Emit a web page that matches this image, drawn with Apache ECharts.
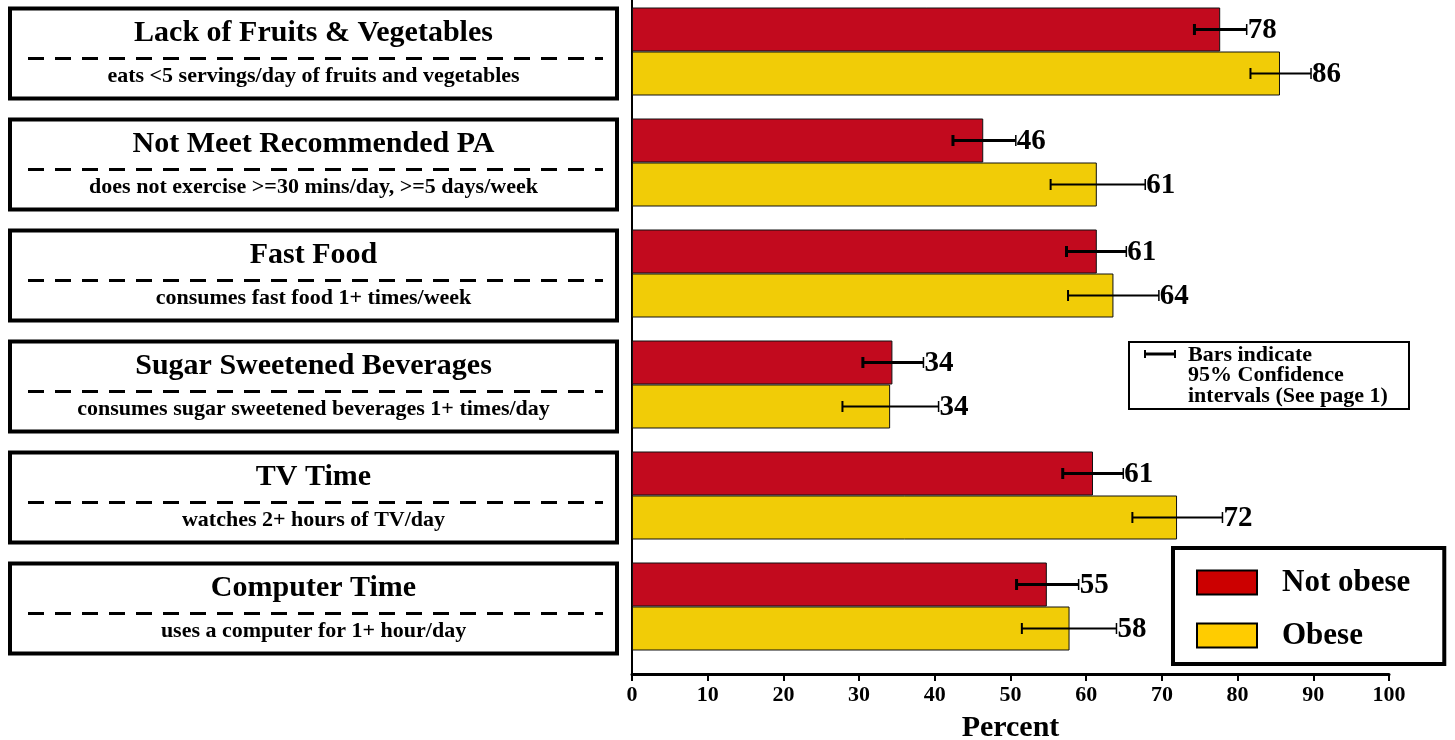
<!DOCTYPE html>
<html>
<head>
<meta charset="utf-8">
<script src="https://cdn.jsdelivr.net/npm/echarts@6/dist/echarts.min.js"></script>
<style>
  html, body { margin: 0; padding: 0; background: #fff; }
  #chart { width: 1455px; height: 740px; }
</style>
</head>
<body>
<div id="chart"></div>
<script>
// categories, top to bottom
const categories = ['Lack of Fruits & Vegetables', 'Not Meet Recommended PA', 'Fast Food',
  'Sugar Sweetened Beverages', 'TV Time', 'Computer Time'];
const descriptions = ['eats <5 servings/day of fruits and vegetables',
  'does not exercise >=30 mins/day, >=5 days/week',
  'consumes fast food 1+ times/week',
  'consumes sugar sweetened beverages 1+ times/day',
  'watches 2+ hours of TV/day',
  'uses a computer for 1+ hour/day'];

// percent, with 95% confidence intervals
const notObese = [77.7, 46.4, 61.4, 34.4, 60.9, 54.8];
const notObeseLow = [74.3, 42.4, 57.4, 30.5, 56.9, 50.8];
const notObeseHigh = [81.2, 50.7, 65.3, 38.5, 64.9, 59.0];
const obese = [85.6, 61.4, 63.6, 34.1, 72.0, 57.8];
const obeseLow = [81.7, 55.3, 57.6, 27.8, 66.1, 51.5];
const obeseHigh = [89.7, 67.8, 69.6, 40.5, 78.0, 64.0];
const xTicks = [0, 10, 20, 30, 40, 50, 60, 70, 80, 90, 100];

const FONT = '"Liberation Serif", "Times New Roman", serif';
const RED = '#c20a1e';
const YELLOW = '#f1cc07';
const BAR_W = 44;

const chart = echarts.init(document.getElementById('chart'));

function errorBars (name, low, high, side, thick) {
	return {
		name,
		type: 'custom',
		xAxisIndex: 0,
		yAxisIndex: 0,
		z: 5,
		silent: true,
		data: low.map((v, i) => [i, v, high[i]]),
		encode: { y: 0, x: [1, 2] },
		renderItem (params, api) {
			const cat = api.value(0);
			const lo = api.coord([api.value(1), cat]);
			const hi = api.coord([api.value(2), cat]);
			const y = lo[1] + side * BAR_W / 2;
			const val = name === 'ciNot' ? notObese[params.dataIndex] : obese[params.dataIndex];
			return {
				type: 'group',
				children: [
					{ type: 'line', shape: { x1: lo[0], y1: y, x2: hi[0], y2: y }, style: { stroke: '#000', lineWidth: thick } },
					{ type: 'line', shape: { x1: lo[0], y1: y - 5.5, x2: lo[0], y2: y + 5.5 }, style: { stroke: '#000', lineWidth: thick } },
					{ type: 'line', shape: { x1: hi[0], y1: y - 5.5, x2: hi[0], y2: y + 5.5 }, style: { stroke: '#000', lineWidth: 1.5 } },
					{
						type: 'text',
						style: {
							x: hi[0] + 1, y: y + 1, text: String(Math.round(val)),
							font: 'bold 29px ' + FONT, fill: '#000',
							align: 'left', verticalAlign: 'middle'
						}
					}
				]
			};
		}
	};
}

const option = {
	animation: false,
	grid: [
		// bars
		{ left: 632, right: 66, top: -4, height: 666, outerBoundsMode: 'none' },
		// category boxes
		{ left: 8, width: 611, top: -4, height: 666, outerBoundsMode: 'none' },
		// axis frame
		{ left: 632, right: 66, top: 0, bottom: 66, outerBoundsMode: 'none' }
	],
	xAxis: [
		{ gridIndex: 0, type: 'value', min: 0, max: 100, show: false },
		{ gridIndex: 1, type: 'value', min: 0, max: 1, show: false },
		{
			gridIndex: 2, type: 'value', min: 0, max: 100, interval: 10, offset: 2,
			splitLine: { show: false },
			axisLine: { show: true, lineStyle: { color: '#000', width: 3 } },
			axisTick: { show: true, length: 7, lineStyle: { color: '#000', width: 2 } },
			axisLabel: {
				margin: 8, color: '#000', fontFamily: FONT, fontWeight: 'bold', fontSize: 22,
				formatter: v => xTicks.includes(v) ? String(v) : ''
			},
			name: 'Percent', nameLocation: 'middle', nameGap: 37,
			nameTextStyle: { color: '#000', fontFamily: FONT, fontWeight: 'bold', fontSize: 30 }
		}
	],
	yAxis: [
		{ gridIndex: 0, type: 'category', data: categories, inverse: true, show: false },
		{ gridIndex: 1, type: 'category', data: categories, inverse: true, show: false },
		{
			gridIndex: 2, type: 'value', min: 0, max: 1, offset: 3,
			splitLine: { show: false }, axisTick: { show: false }, axisLabel: { show: false },
			axisLine: { show: true, lineStyle: { color: '#000', width: 2 } }
		}
	],
	legend: {
		orient: 'vertical',
		left: 1173,
		top: 548,
		padding: [19, 34, 13, 23],
		borderColor: '#000',
		borderWidth: 4,
		itemWidth: 60,
		itemHeight: 24,
		itemGap: 22,
		textStyle: { color: '#000', fontFamily: FONT, fontWeight: 'bold', fontSize: 31, lineHeight: 30, padding: [0, 0, 0, 20] },
		data: [
			{ name: 'Not obese', icon: 'rect', itemStyle: { color: '#cc0000', borderColor: '#000', borderWidth: 2 } },
			{ name: 'Obese', icon: 'rect', itemStyle: { color: '#ffcc00', borderColor: '#000', borderWidth: 2 } }
		]
	},
	graphic: [
		{
			type: 'group',
			left: 1128,
			top: 341,
			children: [
				{ type: 'rect', shape: { x: 0, y: 0, width: 280, height: 67 }, style: { fill: '#fff', stroke: '#000', lineWidth: 2 } },
				{ type: 'line', shape: { x1: 15, y1: 12, x2: 47, y2: 12 }, style: { stroke: '#000', lineWidth: 3 } },
				{ type: 'line', shape: { x1: 16, y1: 8, x2: 16, y2: 16 }, style: { stroke: '#000', lineWidth: 2 } },
				{ type: 'line', shape: { x1: 46, y1: 8, x2: 46, y2: 16 }, style: { stroke: '#000', lineWidth: 2 } },
				{
					type: 'text',
					style: {
						x: 59, y: 3, text: 'Bars indicate\n95% Confidence\nintervals (See page 1)',
						font: 'bold 22px ' + FONT, lineHeight: 20.5, fill: '#000'
					}
				}
			]
		}
	],
	series: [
		{
			name: 'Not obese', type: 'bar', xAxisIndex: 0, yAxisIndex: 0,
			barWidth: BAR_W, barGap: '0%',
			itemStyle: { color: RED, borderColor: '#111', borderWidth: 1 },
			data: notObese
		},
		{
			name: 'Obese', type: 'bar', xAxisIndex: 0, yAxisIndex: 0,
			barWidth: BAR_W, barGap: '0%',
			itemStyle: { color: YELLOW, borderColor: '#111', borderWidth: 1 },
			data: obese
		},
		errorBars('ciNot', notObeseLow, notObeseHigh, -1, 3),
		errorBars('ciOb', obeseLow, obeseHigh, 1, 2),
		{
			// category label boxes on the left
			type: 'custom',
			xAxisIndex: 1,
			yAxisIndex: 1,
			silent: true,
			data: categories.map((c, i) => [0, i]),
			encode: { x: 0, y: 1 },
			renderItem (params, api) {
				const i = params.dataIndex;
				const l = api.coord([0, i]);
				const r = api.coord([1, i]);
				const band = api.size([0, 1])[1];
				const h = band * 0.81;
				const top = l[1] - h / 2 + 2;
				const cx = (l[0] + r[0]) / 2;
				return {
					type: 'group',
					children: [
						{ type: 'rect', shape: { x: l[0] + 2, y: top, width: r[0] - l[0] - 4, height: h }, style: { fill: '#fff', stroke: '#000', lineWidth: 4 } },
						{
							type: 'text',
							style: { x: cx, y: top + 25, text: categories[i], font: 'bold 30px ' + FONT, fill: '#000', align: 'center', verticalAlign: 'middle' }
						},
						{
							type: 'line',
							shape: { x1: l[0] + 20, y1: top + 50, x2: r[0] - 16, y2: top + 50 },
							style: { stroke: '#000', lineWidth: 3, lineDash: [16, 11] }
						},
						{
							type: 'text',
							style: { x: cx, y: top + 68, text: descriptions[i], font: 'bold 22px ' + FONT, fill: '#000', align: 'center', verticalAlign: 'middle' }
						}
					]
				};
			}
		}
	]
};

chart.setOption(option);
</script>
</body>
</html>
